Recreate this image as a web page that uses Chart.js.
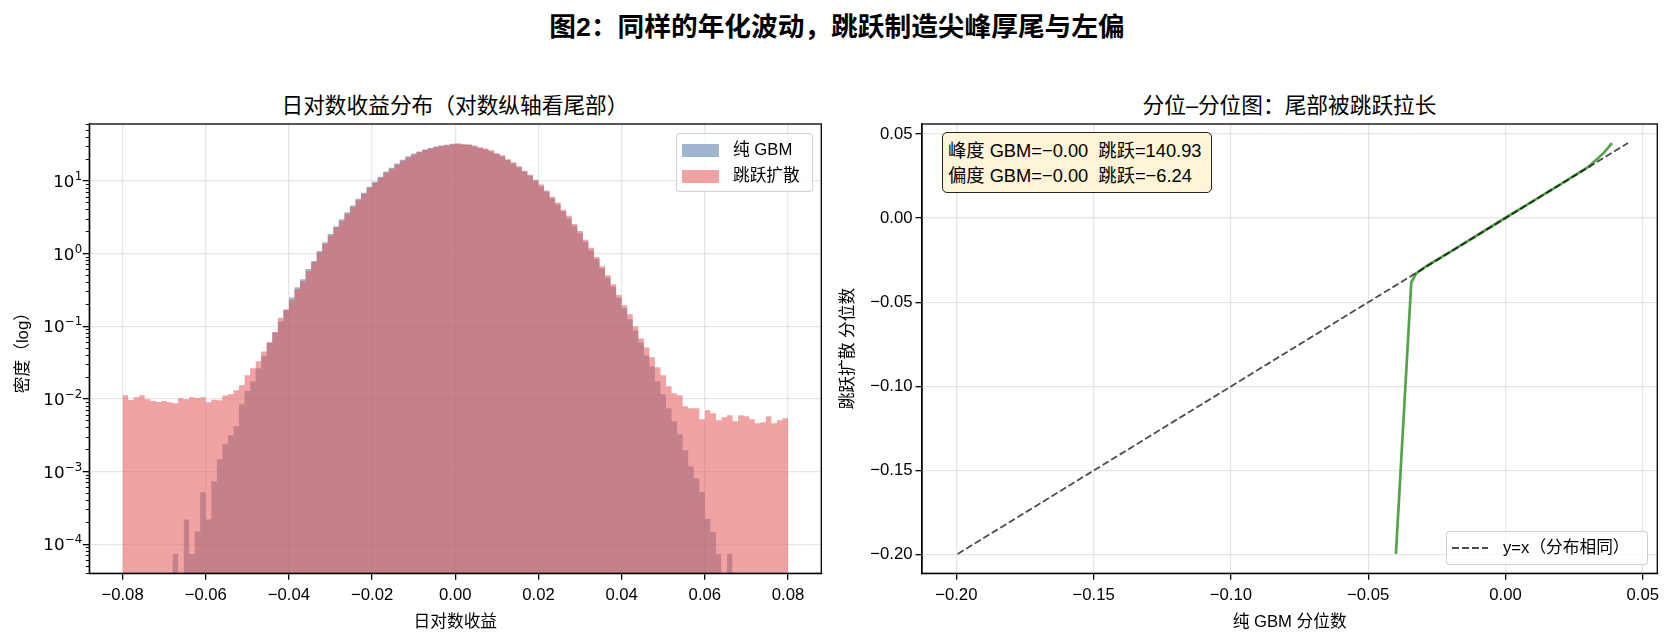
<!DOCTYPE html>
<html lang="zh">
<head>
<meta charset="utf-8">
<title>图2：同样的年化波动，跳跃制造尖峰厚尾与左偏</title>
<script src="https://cdn.jsdelivr.net/npm/chart.js@4.4.1/dist/chart.umd.min.js"></script>
<style>
  html, body { margin: 0; padding: 0; background: #fff; }
  body {
    width: 1674px; height: 643px; position: relative; overflow: hidden;
    font-family: "Liberation Sans", "Noto Sans CJK SC", sans-serif; color: #000;
  }
  .abs { position: absolute; }
  #suptitle {
    left: 0; top: 10px; width: 1674px; text-align: center;
    font-size: 26.7px; font-weight: bold; line-height: 34px;
  }
  .subtitle { top: 93px; font-size: 21.7px; line-height: 26px; text-align: center; }
  .legend {
    box-sizing: border-box; border: 1.3px solid rgba(204, 204, 204, 0.9);
    border-radius: 4px; background: rgba(255, 255, 255, 0.8);
  }
  .legend span, .legend i, .legend svg { position: absolute; }
  .legend span { font-size: 16.7px; line-height: 20px; white-space: pre; }
  #statsBox {
    left: 942px; top: 132px; width: 270px; height: 61px; box-sizing: border-box;
    border: 1.4px solid #262626; border-radius: 5px; background: rgb(254, 244, 215);
    padding: 5px 0 0 5px; font-size: 18.3px; line-height: 25px; white-space: pre;
  }
</style>
</head>
<body>
<div id="suptitle" class="abs">图2：同样的年化波动，跳跃制造尖峰厚尾与左偏</div>
<div class="abs subtitle" style="left:89px;width:732px">日对数收益分布（对数纵轴看尾部）</div>
<div class="abs subtitle" style="left:922px;width:735px">分位–分位图：尾部被跳跃拉长</div>

<canvas id="histChart" class="abs" width="836" height="643" style="left:0;top:0"></canvas>
<canvas id="qqChart" class="abs" width="838" height="643" style="left:836px;top:0"></canvas>

<div class="abs legend" style="left:676px;top:133px;width:137px;height:59px">
  <i style="left:5px;top:10px;width:37px;height:13px;background:rgba(76,120,168,0.55)"></i>
  <span style="left:56px;top:6px">纯 GBM</span>
  <i style="left:5px;top:36px;width:37px;height:13px;background:rgba(228,87,86,0.55)"></i>
  <span style="left:56px;top:32px">跳跃扩散</span>
</div>

<div class="abs legend" style="left:1446px;top:531px;width:202px;height:34px">
  <svg style="left:5px;top:14px" width="37" height="4">
    <line x1="0" y1="2" x2="36" y2="2" stroke="rgba(0,0,0,0.7)" stroke-width="1.8" stroke-dasharray="7,3"></line>
  </svg>
  <span style="left:56px;top:6px">y=x（分布相同）</span>
</div>

<div id="statsBox" class="abs">峰度 GBM=−0.00  跳跃=140.93
偏度 GBM=−0.00  跳跃=−6.24</div>

<script>
// ---- histogram: 120 bins over [-0.08, 0.08], density ----
const BIN_LO = -0.08;
const BIN_HI = 0.08;
const BIN_COUNT = 120;

const gbmDensity = [
  null, null, null, null, null, null, null, null, null, 7.4e-5,
  null, 2.2e-4, 7.4e-5, 1.5e-4, 5.2e-4, 2.2e-4, 7.4e-4, 1.49e-3, 2.39e-3, 3.18e-3,
  4.22e-3, 8.47e-3, 0.0129, 0.0175, 0.0265, 0.0387, 0.0602, 0.0828, 0.117, 0.170,
  0.249, 0.346, 0.447, 0.614, 0.792, 1.09, 1.44, 1.87, 2.39, 2.99,
  3.73, 4.61, 5.70, 6.90, 8.35, 9.79, 11.5, 13.5, 15.3, 17.4,
  19.7, 21.9, 23.9, 25.5, 27.1, 28.6, 29.8, 30.8, 31.5, 32.5,
  32.5, 31.8, 31.5, 29.8, 28.6, 27.1, 25.5, 23.6, 21.9, 19.5,
  17.5, 15.5, 13.5, 11.9, 10.1, 8.4, 7.12, 5.82, 4.75, 3.85,
  3.08, 2.41, 1.91, 1.45, 1.12, 0.843, 0.633, 0.466, 0.350, 0.247,
  0.177, 0.125, 0.0881, 0.0602, 0.0399, 0.0282, 0.0175, 0.0116, 0.00747, 0.00494,
  0.00328, 0.00198, 0.00119, 8.15e-4, 5.24e-4, 2.23e-4, 1.48e-4, 7.4e-5, null, 7.4e-5,
  null, null, null, null, null, null, null, null, null, null
];

const jumpDensity = [
  0.01128, 0.00973, 0.01057, 0.01128, 0.00993, 0.00942, 0.00912, 0.00942, 0.00903, 0.00875,
  0.01025, 0.00993, 0.01057, 0.01035, 0.01057, 0.00903, 0.00982, 0.00962, 0.01115, 0.01164,
  0.0132, 0.01545, 0.0212, 0.0265, 0.0331, 0.0453, 0.0602, 0.0828, 0.1315, 0.170,
  0.231, 0.325, 0.419, 0.576, 0.767, 1.04, 1.36, 1.77, 2.29, 2.83,
  3.53, 4.37, 5.46, 6.68, 8.09, 9.49, 11.1, 13.0, 14.8, 16.8,
  19.1, 21.2, 23.1, 25.2, 26.8, 28.0, 29.5, 30.5, 31.1, 32.1,
  32.8, 32.1, 31.8, 30.8, 29.1, 28.0, 26.5, 24.1, 22.6, 19.9,
  18.1, 16.0, 13.9, 12.2, 10.4, 9.0, 7.43, 6.07, 5.07, 4.02,
  3.32, 2.57, 2.06, 1.56, 1.21, 0.899, 0.675, 0.507, 0.381, 0.271,
  0.196, 0.147, 0.100, 0.0684, 0.0514, 0.0375, 0.0273, 0.0212, 0.0150, 0.0120,
  0.01128, 0.00796, 0.00747, 0.00747, 0.00527, 0.00701, 0.00637, 0.00511, 0.00561, 0.00598,
  0.00494, 0.00598, 0.00579, 0.00527, 0.00464, 0.00480, 0.00579, 0.00464, 0.00511, 0.00545
];

const histXTicks = [-0.08, -0.06, -0.04, -0.02, 0, 0.02, 0.04, 0.06, 0.08];
const histYTicks = [1e-4, 1e-3, 1e-2, 1e-1, 1, 10];
const histYTickExponents = ['\u22124', '\u22123', '\u22122', '\u22121', '0', '1'];

// ---- QQ plot: (GBM quantile, jump-diffusion quantile) ----
const qqGbm  = [-0.0399, -0.0343, -0.0325, -0.0288, -0.020, -0.010, 0.000, 0.010, 0.020, 0.030, 0.0335, 0.0362, 0.0388];
const qqJump = [-0.1995, -0.0381, -0.0328, -0.0286, -0.0199, -0.0099, 0.0002, 0.0101, 0.0200, 0.0302, 0.0352, 0.0395, 0.0446];
const refLine = [-0.1995, 0.0446];
const qqTicks = [-0.20, -0.15, -0.10, -0.05, 0, 0.05];

const FONT = '"Liberation Sans", "Noto Sans CJK SC", sans-serif';
const MATH_FONT = '"DejaVu Sans", sans-serif';
const GRID = 'rgba(176, 176, 176, 0.3)';
Chart.defaults.font.family = FONT;
Chart.defaults.font.size = 16.7;
Chart.defaults.color = '#000';

function fmtTick(v, digits) {
  return (v < 0 ? '\u2212' : '') + Math.abs(v).toFixed(digits);
}

// histogram outline: every bin becomes a flat top from its left edge to its right edge
const binWidth = (BIN_HI - BIN_LO) / BIN_COUNT;
function stepOutline(values) {
  const pts = [];
  values.forEach((v, i) => {
    const x0 = BIN_LO + i * binWidth;
    if (v === null) {
      pts.push({ x: x0 + binWidth / 2, y: null });
    } else {
      pts.push({ x: x0, y: v }, { x: x0 + binWidth, y: v });
    }
  });
  return pts;
}

// minor ticks of the log axis (2..9 x 10^k)
const Y_MIN = 4.0e-5;
const Y_MAX = 61;
const minorLogTicks = [];
for (let k = -5; k <= 1; k++) {
  for (let m = 2; m <= 9; m++) {
    const v = m * Math.pow(10, k);
    if (v >= Y_MIN && v <= Y_MAX) minorLogTicks.push(v);
  }
}

// closes the box around the plot area (top and right spines)
const framePlugin = {
  id: 'frame',
  afterDraw(chart) {
    const { ctx, chartArea: a } = chart;
    ctx.save();
    ctx.strokeStyle = '#000';
    ctx.lineWidth = 1.3;
    ctx.strokeRect(a.left, a.top, a.right - a.left, a.bottom - a.top);
    ctx.restore();
  }
};

// "10" with a raised, smaller exponent, placed at the log axis' tick positions
const logTickLabels = {
  id: 'logTickLabels',
  afterDraw(chart) {
    const s = chart.scales.y;
    const ctx = chart.ctx;
    const right = s.right - 7.5;
    ctx.save();
    ctx.fillStyle = '#000';
    ctx.textAlign = 'left';
    ctx.textBaseline = 'alphabetic';
    histYTicks.forEach((v, i) => {
      const y = s.getPixelForValue(v);
      const exp = histYTickExponents[i];
      ctx.font = '11.7px ' + MATH_FONT;
      const ew = ctx.measureText(exp).width;
      ctx.font = '16.7px ' + MATH_FONT;
      const bw = ctx.measureText('10').width;
      const x0 = right - ew - bw;
      ctx.fillText('10', x0, y + 6);
      ctx.font = '11.7px ' + MATH_FONT;
      ctx.fillText(exp, x0 + bw + 0.5, y - 1);
    });
    ctx.restore();
  }
};

const axisGrid = { color: GRID, lineWidth: 1.3, tickColor: '#000', tickLength: 6.5, tickWidth: 1.3 };
const axisBorder = { color: '#000', width: 1.3 };

new Chart(document.getElementById('histChart'), {
  type: 'line',
  data: {
    datasets: [
      {
        label: '跳跃扩散',
        data: stepOutline(jumpDensity),
        borderColor: 'transparent',
        backgroundColor: 'rgba(228, 87, 86, 0.55)',
        fill: 'start',
        pointRadius: 0,
        tension: 0
      },
      {
        label: '纯 GBM',
        data: stepOutline(gbmDensity),
        borderColor: 'transparent',
        backgroundColor: 'rgba(76, 120, 168, 0.55)',
        fill: 'start',
        pointRadius: 0,
        tension: 0
      }
    ]
  },
  options: {
    responsive: false,
    animation: false,
    events: [],
    layout: { padding: { top: 124, right: 14.7, bottom: 0, left: 0 } },
    plugins: { legend: { display: false }, tooltip: { enabled: false } },
    scales: {
      x: {
        type: 'linear', min: -0.088, max: 0.088, z: 1,
        afterBuildTicks: s => { s.ticks = histXTicks.map(v => ({ value: v })); },
        afterFit: s => { s.height = 69.7; },
        ticks: { callback: v => fmtTick(v, 2), padding: 6, maxRotation: 0, autoSkip: false },
        grid: axisGrid,
        border: axisBorder,
        title: { display: true, text: '日对数收益', padding: { top: 0, bottom: 11 } }
      },
      y: {
        type: 'logarithmic', position: 'left', min: Y_MIN, max: Y_MAX, weight: 1, z: 1,
        afterBuildTicks: s => { s.ticks = histYTicks.map(v => ({ value: v })); },
        afterFit: s => { s.width = 89.3; },
        ticks: { display: false },
        grid: axisGrid,
        border: axisBorder,
        title: { display: true, text: '密度（log）', padding: { top: 13.5, bottom: 0 } }
      },
      yMinor: {
        type: 'logarithmic', position: 'left', min: Y_MIN, max: Y_MAX, weight: 0, z: 1,
        afterBuildTicks: s => { s.ticks = minorLogTicks.map(v => ({ value: v })); },
        afterFit: s => { s.width = 0; },
        ticks: { display: false },
        grid: { drawOnChartArea: false, tickColor: '#000', tickLength: 3.5, tickWidth: 1 },
        border: { display: false }
      }
    }
  },
  plugins: [framePlugin, logTickLabels]
});

new Chart(document.getElementById('qqChart'), {
  type: 'line',
  data: {
    datasets: [
      {
        label: 'y=x（分布相同）',
        data: refLine.map(v => ({ x: v, y: v })),
        borderColor: 'rgba(0, 0, 0, 0.7)',
        borderWidth: 1.8,
        borderDash: [7, 3],
        pointRadius: 0,
        fill: false
      },
      {
        label: 'QQ',
        data: qqGbm.map((x, i) => ({ x, y: qqJump[i] })),
        borderColor: '#54A24B',
        borderWidth: 2.7,
        pointRadius: 0,
        fill: false,
        tension: 0
      }
    ]
  },
  options: {
    responsive: false,
    animation: false,
    events: [],
    layout: { padding: { top: 124, right: 16.7, bottom: 0, left: 0 } },
    plugins: { legend: { display: false }, tooltip: { enabled: false } },
    scales: {
      x: {
        type: 'linear', min: -0.2125, max: 0.0553,
        afterBuildTicks: s => { s.ticks = qqTicks.map(v => ({ value: v })); },
        afterFit: s => { s.height = 69.7; },
        ticks: { callback: v => fmtTick(v, 2), padding: 6, maxRotation: 0, autoSkip: false },
        grid: axisGrid,
        border: axisBorder,
        title: { display: true, text: '纯 GBM 分位数', padding: { top: 0, bottom: 11 } }
      },
      y: {
        type: 'linear', min: -0.211, max: 0.0559,
        afterBuildTicks: s => { s.ticks = qqTicks.map(v => ({ value: v })); },
        afterFit: s => { s.width = 86; },
        ticks: { callback: v => fmtTick(v, 2), padding: 3, autoSkip: false },
        grid: axisGrid,
        border: axisBorder,
        title: { display: true, text: '跳跃扩散 分位数', padding: { top: 2.7, bottom: 0 } }
      }
    }
  },
  plugins: [framePlugin]
});
</script>
</body>
</html>
